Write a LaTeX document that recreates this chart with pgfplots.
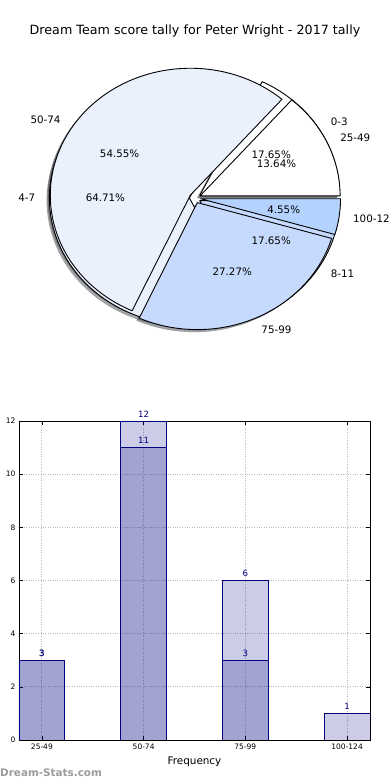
\documentclass[border=0pt]{standalone}
\usepackage{pgfplots}
\pgfplotsset{compat=1.18}
\usepackage{fontspec}
\setmainfont{DejaVu Sans}
\definecolor{navy}{RGB}{0,0,128}
\definecolor{pA}{RGB}{255,255,255}
\definecolor{pB}{RGB}{234,241,253}
\definecolor{pC}{RGB}{198,218,253}
\definecolor{pD}{RGB}{179,211,254}
\definecolor{wm}{RGB}{155,155,155}

\def\rx{140}\def\ry{127}\def\EX{0.04}
\newcommand\piefont{\fontsize{10.3}{12}\selectfont}

% #1 total, #2 list macro count/color/label, #3 mode: 0 shadow, 1 wedge, 2 labels
\newcommand\piepass[3]{%
  \xdef\cum{0}%
  \foreach \cnt/\col/\lab in #2{%
    \pgfmathsetmacro\sa{360*\cum/#1}%
    \pgfmathsetmacro\ea{360*(\cum+\cnt)/#1}%
    \pgfmathsetmacro\ma{(\sa+\ea)/2}%
    \pgfmathsetmacro\ox{\EX*\rx*cos(\ma)}%
    \pgfmathsetmacro\oy{\EX*\ry*sin(\ma)}%
    \ifcase#3
      \pgfmathsetmacro\sx{\ox-0.02*\rx}%
      \pgfmathsetmacro\sy{\oy-0.02*\ry}%
      \fill[fill=\col!30!black, opacity=0.5] (axis cs:\sx,\sy) -- ++(\sa:\rx pt and \ry pt)
        arc[start angle=\sa, end angle=\ea, x radius=\rx pt, y radius=\ry pt] -- cycle;
    \or
      \filldraw[fill=\col, draw=black, line width=0.9pt, line join=round] (axis cs:\ox,\oy) -- ++(\sa:\rx pt and \ry pt)
        arc[start angle=\sa, end angle=\ea, x radius=\rx pt, y radius=\ry pt] -- cycle;
    \or
      \pgfmathsetmacro\lx{(\EX+1.1)*\rx*cos(\ma)}%
      \pgfmathsetmacro\ly{(\EX+1.1)*\ry*sin(\ma)}%
      \pgfmathsetmacro\px{(\EX+0.6)*\rx*cos(\ma)}%
      \pgfmathsetmacro\py{(\EX+0.6)*\ry*sin(\ma)}%
      \pgfmathsetmacro\pct{100*\cnt/#1}%
      \ifdim\lx pt>0pt \def\anc{west}\else\def\anc{east}\fi
      \node[anchor=\anc, font=\piefont, inner sep=0pt] at (axis cs:\lx,\ly) {\lab};
      \node[font=\piefont, inner sep=0pt] at (axis cs:\px,\py)
        {\pgfmathprintnumber[fixed,fixed zerofill,precision=2,assume math mode=true]{\pct}\%};
    \fi
    \pgfmathsetmacro\newcum{\cum+\cnt}%
    \xdef\cum{\newcum}%
  }%
}
\def\pieone{3/pA/0-3, 11/pB/4-7, 3/pC/8-11}
\def\pietwo{3/pA/25-49, 12/pB/50-74, 6/pC/75-99, 1/pD/100-124}

\begin{document}
\begin{tikzpicture}
\useasboundingbox (0,0) rectangle (390pt,780pt);

% ---------- Pie chart ----------
\begin{axis}[at={(0pt,390pt)}, anchor=south west, scale only axis,
  width=390pt, height=390pt, xmin=-195, xmax=195, ymin=-192, ymax=198,
  hide axis, clip=false]
\pgfplotsextra{%
  \piepass{17}{\pieone}{0}%
  \piepass{22}{\pietwo}{0}%
  \piepass{17}{\pieone}{1}%
  \piepass{22}{\pietwo}{1}%
  \piepass{17}{\pieone}{2}%
  \piepass{22}{\pietwo}{2}%
}
\end{axis}
\node[anchor=base, font=\fontsize{12.7}{15}\selectfont] at (195pt,745pt)
  {Dream Team score tally for Peter Wright - 2017 tally};

% ---------- Bar chart ----------
\begin{axis}[at={(19pt,40pt)}, anchor=south west, scale only axis,
  width=351pt, height=319pt,
  xmin=-0.225, xmax=3.225, ymin=0, ymax=12,
  xtick={0,1,2,3}, xticklabels={25-49,50-74,75-99,100-124},
  ytick={0,2,...,12},
  grid=major, grid style={dotted, gray!55, line width=0.9pt},
  tick align=inside, tick pos=both, major tick length=4pt,
  tick style={black, line width=0.6pt},
  axis line style={line width=0.8pt},
  ticklabel style={font=\fontsize{7.5}{9}\selectfont},
  /pgf/number format/assume math mode=true,
  xlabel={Frequency},
  xlabel style={at={(axis description cs:0.5,0)}, anchor=base, yshift=-24pt, font=\fontsize{10.4}{12}\selectfont},
  ylabel={Score Interval},
  ylabel style={at={(axis description cs:-0.062,0.5)}, anchor=base, font=\fontsize{10.4}{12}\selectfont},
  nodes near coords,
  nodes near coords style={text=navy, text opacity=1, font=\fontsize{8.6}{10}\selectfont},
]
\addplot[ybar, bar width=0.45, fill=navy, fill opacity=0.2, draw=navy, draw opacity=1, line width=0.8pt]
  coordinates {(0,3) (1,12) (2,6) (3,1)};
\addplot[ybar, bar width=0.45, fill=navy, fill opacity=0.2, draw=navy, draw opacity=1, line width=0.8pt]
  coordinates {(0,3) (1,11) (2,3)};
\end{axis}

\node[anchor=base west, inner sep=0pt, text=wm, font=\bfseries\fontsize{10.4}{12}\selectfont] at (0pt,4pt) {Dream-Stats.com};
\end{tikzpicture}
\end{document}
